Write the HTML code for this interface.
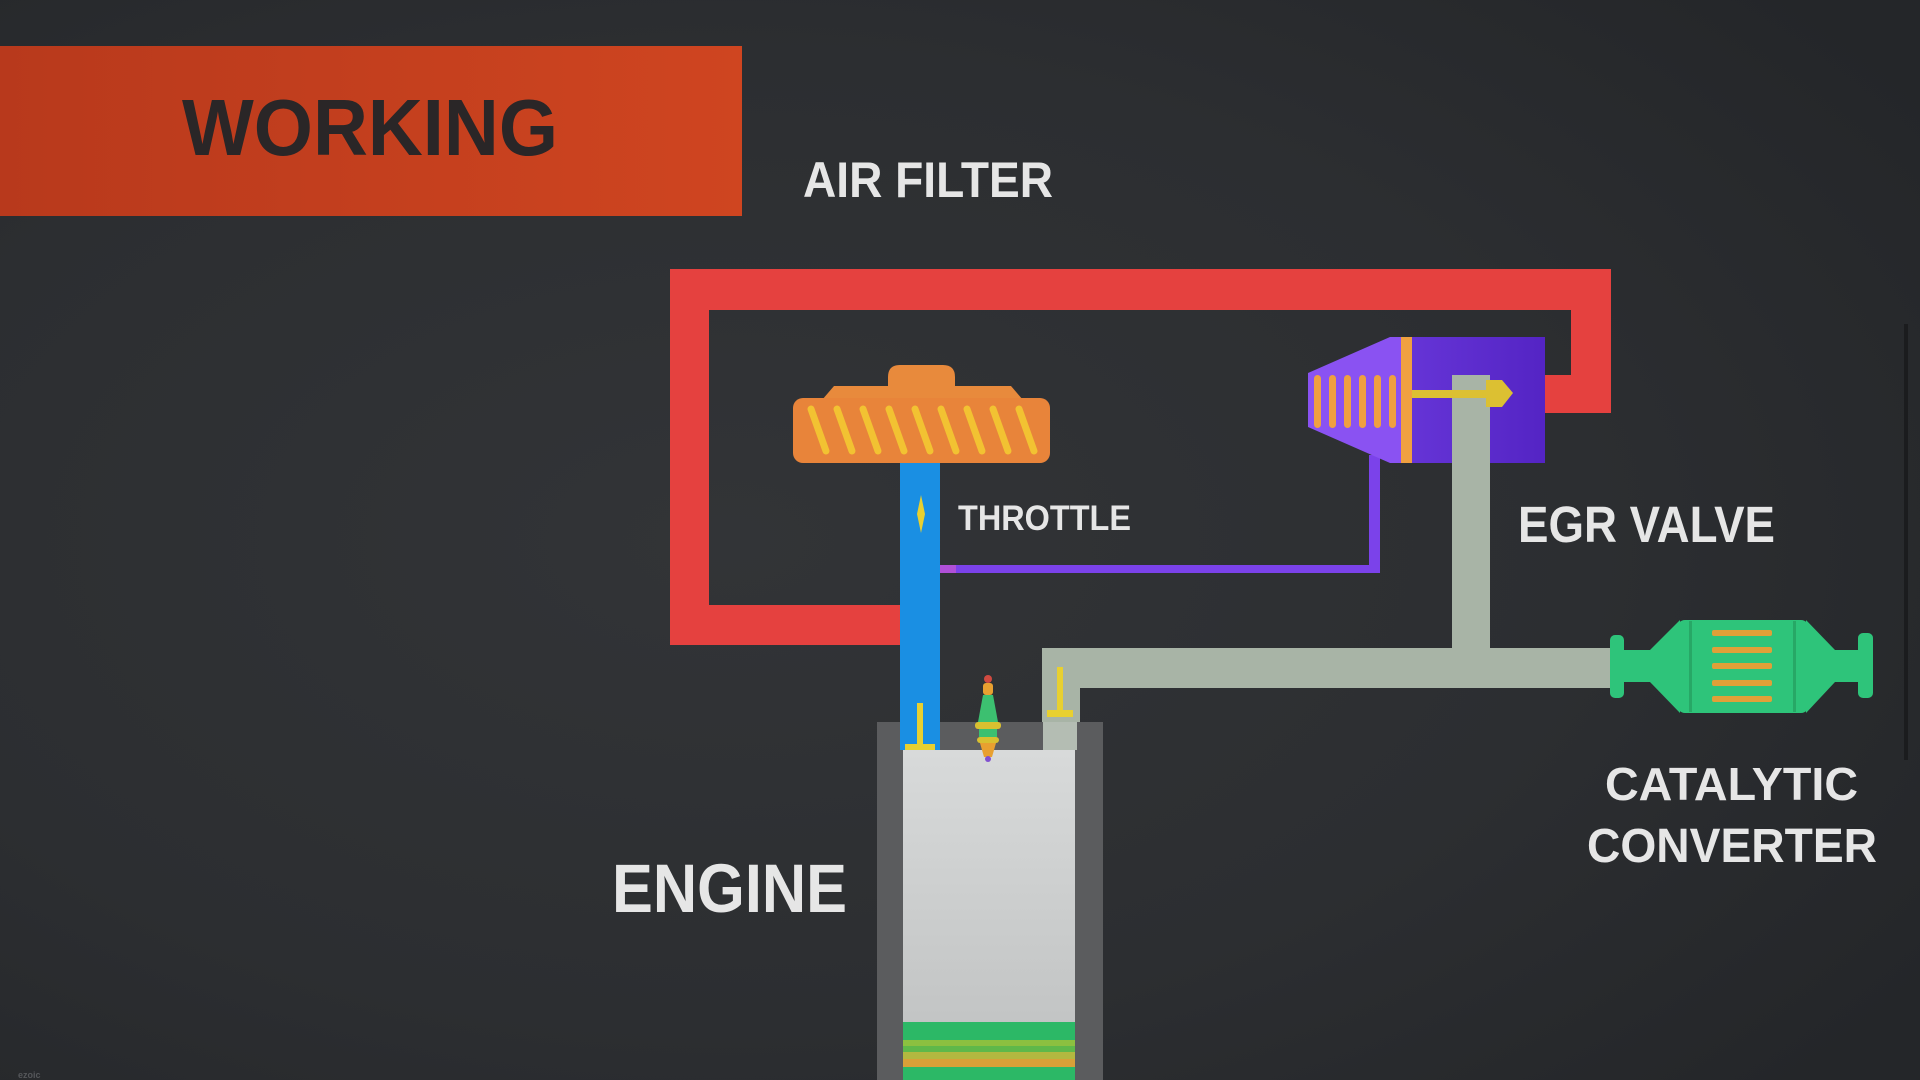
<!DOCTYPE html>
<html>
<head>
<meta charset="utf-8">
<style>
  html, body { margin:0; padding:0; width:1920px; height:1080px; overflow:hidden; background:#2b2d30; }
  svg { display:block; }
  text { font-family: "Liberation Sans", "DejaVu Sans", sans-serif; font-weight:bold; }
</style>
</head>
<body>
<svg width="1920" height="1080" viewBox="0 0 1920 1080" xmlns="http://www.w3.org/2000/svg">
  <defs>
    <radialGradient id="bg" cx="0.38" cy="0.5" r="0.75">
      <stop offset="0" stop-color="#323437"/>
      <stop offset="0.6" stop-color="#2c2e31"/>
      <stop offset="1" stop-color="#242629"/>
    </radialGradient>
    <linearGradient id="banner" x1="0" y1="0" x2="1" y2="0">
      <stop offset="0" stop-color="#b8391c"/>
      <stop offset="1" stop-color="#cf4520"/>
    </linearGradient>
    <linearGradient id="cyl" x1="0" y1="0" x2="0" y2="1">
      <stop offset="0" stop-color="#d8dada"/>
      <stop offset="1" stop-color="#bec0c0"/>
    </linearGradient>
    <linearGradient id="egr" x1="0" y1="0" x2="1" y2="0">
      <stop offset="0" stop-color="#6534d6"/>
      <stop offset="1" stop-color="#5424c4"/>
    </linearGradient>
  </defs>

  <rect x="0" y="0" width="1920" height="1080" fill="url(#bg)"/>

  <!-- Banner -->
  <rect x="0" y="46" width="742" height="170" fill="url(#banner)"/>
  <text x="182" y="155" font-size="80" fill="#2a2627" textLength="376" lengthAdjust="spacingAndGlyphs">WORKING</text>

  <!-- Labels -->
  <text x="803" y="197" font-size="50" fill="#e6e6e6" textLength="250" lengthAdjust="spacingAndGlyphs">AIR FILTER</text>
  <text x="958" y="530" font-size="35" fill="#e6e6e6" textLength="173" lengthAdjust="spacingAndGlyphs">THROTTLE</text>
  <text x="1518" y="542" font-size="51" fill="#e6e6e6" textLength="257" lengthAdjust="spacingAndGlyphs">EGR VALVE</text>
  <text x="1605" y="800" font-size="46" fill="#e6e6e6" textLength="253" lengthAdjust="spacingAndGlyphs">CATALYTIC</text>
  <text x="1587" y="862" font-size="48" fill="#e6e6e6" textLength="290" lengthAdjust="spacingAndGlyphs">CONVERTER</text>
  <text x="612" y="912" font-size="69" fill="#e6e6e6" textLength="235" lengthAdjust="spacingAndGlyphs">ENGINE</text>

  <!-- Red pipe -->
  <g fill="#e5413f">
    <rect x="670" y="269" width="941" height="41"/>
    <rect x="670" y="269" width="39" height="376"/>
    <rect x="670" y="605" width="232" height="40"/>
    <rect x="1571" y="269" width="40" height="144"/>
    <rect x="1503" y="375" width="108" height="38"/>
  </g>

  <!-- Purple control line -->
  <rect x="940" y="565" width="440" height="8" fill="#7b42ea"/>
  <rect x="940" y="565" width="16" height="8" fill="#b050d8"/>
  <rect x="1369" y="455" width="11" height="118" fill="#7b42ea"/>

  <!-- EGR valve -->
  <rect x="1412" y="337" width="133" height="126" fill="url(#egr)"/>
  <polygon points="1308,373 1390,337 1401,337 1401,463 1390,463 1308,427" fill="#8a52f2"/>
  <rect x="1401" y="337" width="11" height="126" fill="#f0a040"/>
  <g fill="#f0a040">
    <rect x="1314" y="375" width="7" height="53" rx="3.5"/>
    <rect x="1329" y="375" width="7" height="53" rx="3.5"/>
    <rect x="1344" y="375" width="7" height="53" rx="3.5"/>
    <rect x="1359" y="375" width="7" height="53" rx="3.5"/>
    <rect x="1374" y="375" width="7" height="53" rx="3.5"/>
    <rect x="1389" y="375" width="7" height="53" rx="3.5"/>
  </g>

  <!-- Grey EGR / exhaust pipe -->
  <g fill="#a8b4a6">
    <rect x="1452" y="375" width="38" height="313"/>
    <rect x="1042" y="648" width="568" height="40"/>
    <rect x="1042" y="648" width="38" height="74"/>
  </g>

  <!-- EGR rod + plug -->
  <rect x="1412" y="390" width="84" height="8" fill="#dcc032"/>
  <polygon points="1486,380 1502,380 1513,393 1502,407 1486,407" fill="#dcc032"/>

  <!-- Catalytic converter -->
  <g fill="#2ec47a">
    <rect x="1610" y="635" width="14" height="63" rx="5"/>
    <rect x="1622" y="650" width="30" height="32"/>
    <polygon points="1650,650 1680,620 1680,713 1650,682"/>
    <rect x="1677" y="620" width="132" height="93" rx="8"/>
    <polygon points="1806,620 1835,650 1835,682 1806,713"/>
    <rect x="1833" y="650" width="28" height="32"/>
    <rect x="1858" y="633" width="15" height="65" rx="5"/>
  </g>
  <rect x="1689" y="621" width="3" height="91" fill="#27a866"/>
  <rect x="1793" y="621" width="3" height="91" fill="#27a866"/>
  <g fill="#e0a038">
    <rect x="1712" y="630" width="60" height="6" rx="2"/>
    <rect x="1712" y="647" width="60" height="6" rx="2"/>
    <rect x="1712" y="663" width="60" height="6" rx="2"/>
    <rect x="1712" y="680" width="60" height="6" rx="2"/>
    <rect x="1712" y="696" width="60" height="6" rx="2"/>
  </g>

  <!-- Air filter -->
  <path d="M888,392 L888,377 Q888,365 900,365 L943,365 Q955,365 955,377 L955,392 Z" fill="#e88a3c"/>
  <polygon points="822,400 834,386 1011,386 1023,400" fill="#e88a3c"/>
  <rect x="793" y="398" width="257" height="65" rx="10" fill="#e8843a"/>
  <g stroke="#f2c232" stroke-width="7" stroke-linecap="round">
    <line x1="811" y1="409" x2="826" y2="451"/>
    <line x1="837" y1="409" x2="852" y2="451"/>
    <line x1="863" y1="409" x2="878" y2="451"/>
    <line x1="889" y1="409" x2="904" y2="451"/>
    <line x1="915" y1="409" x2="930" y2="451"/>
    <line x1="941" y1="409" x2="956" y2="451"/>
    <line x1="967" y1="409" x2="982" y2="451"/>
    <line x1="993" y1="409" x2="1008" y2="451"/>
    <line x1="1019" y1="409" x2="1034" y2="451"/>
  </g>

  <!-- Engine -->
  <rect x="877" y="722" width="226" height="358" fill="#5b5c5e"/>
  <rect x="903" y="750" width="172" height="330" fill="url(#cyl)"/>
  <rect x="1043" y="722" width="34" height="28" fill="#b4bdb3"/>
  <!-- piston -->
  <rect x="903" y="1022" width="172" height="18" fill="#2cb866"/>
  <rect x="903" y="1040" width="172" height="6" fill="#8cc040"/>
  <rect x="903" y="1046" width="172" height="6" fill="#5fb84a"/>
  <rect x="903" y="1052" width="172" height="7" fill="#b3b840"/>
  <rect x="903" y="1059" width="172" height="8" fill="#d8a038"/>
  <rect x="903" y="1067" width="172" height="13" fill="#2cb866"/>

  <!-- Blue intake pipe -->
  <rect x="900" y="463" width="40" height="287" fill="#1a8fe3"/>
  <!-- throttle valve -->
  <polygon points="921,495 925,514 921,533 917,514" fill="#e8d030"/>

  <!-- Valves -->
  <g fill="#e8d030">
    <rect x="917" y="703" width="6" height="44"/>
    <rect x="905" y="744" width="30" height="6"/>
    <rect x="1057" y="667" width="6" height="46"/>
    <rect x="1047" y="710" width="26" height="7"/>
  </g>

  <!-- Spark plug -->
  <circle cx="988" cy="679" r="4" fill="#d04a40"/>
  <rect x="983" y="683" width="10" height="12" rx="3" fill="#e8a030"/>
  <polygon points="983,695 993,695 998,722 978,722" fill="#3cc070"/>
  <rect x="975" y="722" width="26" height="7" rx="3" fill="#d8c030"/>
  <rect x="979" y="729" width="18" height="8" fill="#3cc070"/>
  <rect x="977" y="737" width="22" height="6" rx="3" fill="#d8c030"/>
  <polygon points="980,743 996,743 992,757 984,757" fill="#e8a030"/>
  <circle cx="988" cy="759" r="3" fill="#8050d0"/>

  <!-- right edge dark line -->
  <rect x="1904" y="324" width="4" height="436" fill="#1b1c1e"/>

  <text x="18" y="1078" font-size="9" fill="#55575a" font-weight="normal">ezoic</text>
</svg>
</body>
</html>
